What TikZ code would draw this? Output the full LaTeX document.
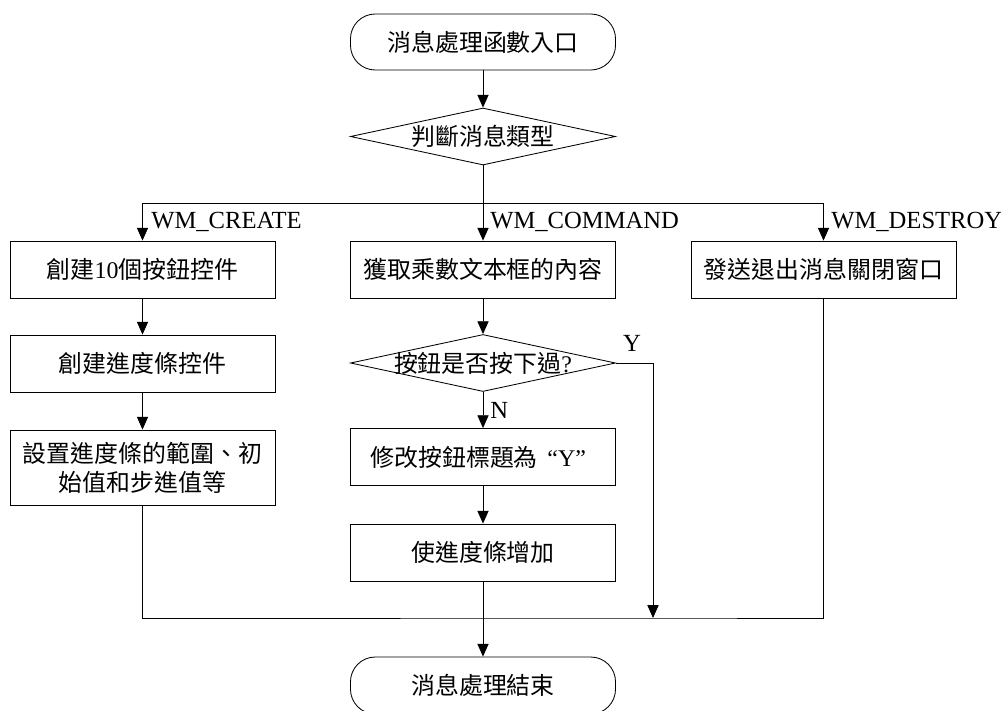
\documentclass[tikz,border=0pt]{standalone}
\usepackage{fontspec}
\setmainfont{Liberation Serif}
\newfontfamily\cjk{Noto Sans CJK TC}
\usetikzlibrary{arrows.meta,shapes.geometric}

\tikzset{
  every node/.style={font=\fontsize{17pt}{20.5pt}\selectfont, inner sep=0pt},
  box/.style={draw, line width=0.6pt, minimum width=6.625cm, minimum height=1.425cm, align=center},
  term/.style={draw, line width=0.6pt, rounded corners=0.62cm, minimum width=6.625cm, minimum height=1.4cm},
  decide/.style={draw, diamond, line width=0.6pt, minimum width=6.625cm, minimum height=1.425cm},
  lbl/.style={anchor=west, font=\fontsize{17.5pt}{20.5pt}\selectfont},
  flow/.style={line width=0.6pt},
  arr/.style={flow, -{Triangle[length=0.32cm, width=0.28cm]}},
}

\begin{document}
\begin{tikzpicture}[x=0.025cm, y=-0.025cm]
\useasboundingbox (0,0) rectangle (1001,711);

% start / decision
\node[term] (start) at (483,42) {\cjk 消息處理函數入口};
\node[decide] (d1) at (483,136.5) {\makebox[0pt]{\cjk 判斷消息類型}};

% three message branches
\node[box] (b1) at (142.5,269.5) {{\cjk 創建}10{\cjk 個按鈕控件}};
\node[box] (b2) at (483,269.5) {\cjk 獲取乘數文本框的內容};
\node[box] (b3) at (823.5,269.5) {\cjk 發送退出消息關閉窗口};

% WM_CREATE column
\node[box] (l2) at (142.5,363.5) {\cjk 創建進度條控件};
\node[box, minimum height=1.875cm] (l3) at (142.5,467.5) {\cjk 設置進度條的範圍、初\\\cjk 始值和步進值等};

% WM_COMMAND column
\node[decide] (d2) at (483,363) {\makebox[0pt]{{\cjk 按鈕是否按下過}?}};
\node[box] (m3) at (483,457) {{\cjk 修改按鈕標題為}\hspace{0.4em}“Y”\hspace{0.4em}};
\node[box] (m4) at (483,552.5) {\cjk 使進度條增加};

% end
\node[term, minimum height=1.425cm] (stop) at (483,685.5) {\cjk 消息處理結束};

% junction points
\coordinate (fork) at (483,203);
\coordinate (yjoin) at (653,618);

% branch labels
\node[lbl] (lc) at (151,222) {WM\_CREATE};
\node[lbl] (lm) at (490,222) {WM\_COMMAND};
\node[lbl] (ld) at (831,222) {WM\_DESTROY};
\node[font=\fontsize{17.5pt}{20.5pt}\selectfont] (ly) at (632,343) {Y};
\node[lbl] (ln) at (490,410) {N};

% connectors
\draw[arr] (start) -- (d1);
\draw[arr] (d1) -- (b2);
\draw[arr] (fork) -| (b1.north);
\draw[arr] (fork) -| (b3.north);
\draw[arr] (b1) -- (l2);
\draw[arr] (l2) -- (l3);
\draw[arr] (b2) -- (d2);
\draw[arr] (d2) -- (m3);
\draw[arr] (m3) -- (m4);
\draw[arr] (d2.east) -| (yjoin);
\draw[flow] (l3.south) |- (yjoin) -| (b3.south);
\draw[arr] (m4) -- (stop);
\end{tikzpicture}
\end{document}
